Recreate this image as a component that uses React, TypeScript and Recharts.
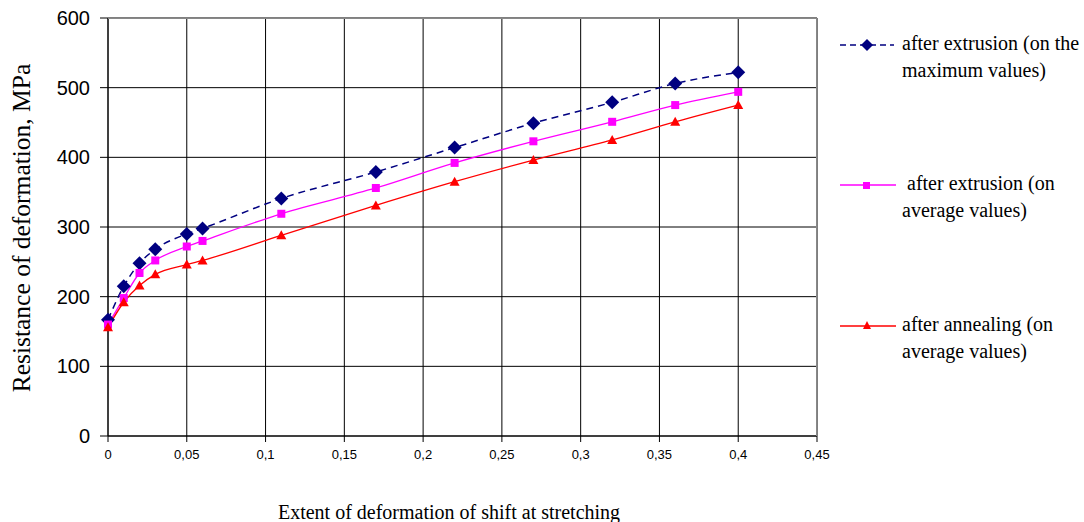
import { LineChart, Line, XAxis, YAxis, CartesianGrid } from 'recharts'

const strain = [0, 0.01, 0.02, 0.03, 0.05, 0.06, 0.11, 0.17, 0.22, 0.27, 0.32, 0.36, 0.4]
const maxExtrusion = [167, 215, 248, 268, 290, 298, 341, 379, 414, 449, 479, 506, 522]
const avgExtrusion = [160, 198, 234, 252, 272, 280, 319, 356, 392, 423, 451, 475, 494]
const avgAnnealing = [156, 192, 216, 232, 246, 252, 288, 331, 365, 396, 425, 451, 475]
const xTicks = [0, 0.05, 0.1, 0.15, 0.2, 0.25, 0.3, 0.35, 0.4, 0.45]
const yTicks = [0, 100, 200, 300, 400, 500, 600]
const seriesNames = [
  ['after extrusion (on the', 'maximum values)'],
  [' after extrusion (on', 'average values)'],
  ['after annealing (on', 'average values)'],
]

const data = strain.map((x, i) => ({
  x,
  max: maxExtrusion[i],
  avg: avgExtrusion[i],
  ann: avgAnnealing[i],
}))

const Diamond = (p: any) => {
  const { cx, cy } = p
  if (cx == null || cy == null) return null
  return <path d={`M${cx},${cy - 7} L${cx + 7},${cy} L${cx},${cy + 7} L${cx - 7},${cy} Z`} fill="#000080" />
}
const Square = (p: any) => {
  const { cx, cy } = p
  if (cx == null || cy == null) return null
  return <rect x={cx - 4} y={cy - 4} width={8} height={8} fill="#ff00ff" />
}
const Triangle = (p: any) => {
  const { cx, cy } = p
  if (cx == null || cy == null) return null
  return <path d={`M${cx},${cy - 5} L${cx + 5},${cy + 4} L${cx - 5},${cy + 4} Z`} fill="#ff0000" />
}

const serif = '"Liberation Serif", "Times New Roman", serif'
const sans = '"Liberation Sans", Arial, sans-serif'

function LegendRow({ top, kind, lines }: { top: number; kind: number; lines: string[] }) {
  return (
    <div style={{ position: 'absolute', left: 838, top, display: 'flex' }}>
      <svg width={60} height={20}>
        {kind === 0 && (
          <>
            <line x1={2} y1={8} x2={56} y2={8} stroke="#000080" strokeWidth={1.5} strokeDasharray="6 4" />
            <path d="M29,2 L35,8 L29,14 L23,8 Z" fill="#000080" />
          </>
        )}
        {kind === 1 && (
          <>
            <line x1={2} y1={8} x2={58} y2={8} stroke="#ff00ff" strokeWidth={1.5} />
            <rect x={25} y={5} width={7} height={7} fill="#ff00ff" />
          </>
        )}
        {kind === 2 && (
          <>
            <line x1={2} y1={8} x2={58} y2={8} stroke="#ff0000" strokeWidth={1.5} />
            <path d="M29,3 L33,11 L25,11 Z" fill="#ff0000" />
          </>
        )}
      </svg>
      <div style={{ fontFamily: serif, fontSize: 20, lineHeight: '27px', marginLeft: 4, marginTop: -7, whiteSpace: 'pre', color: '#000' }}>
        {lines[0]}
        <br />
        {lines[1]}
      </div>
    </div>
  )
}

export default function App() {
  return (
    <div style={{ position: 'absolute', left: 0, top: 0, width: 1084, height: 522, background: '#fff' }}>
      <LineChart width={1084} height={522} data={data} margin={{ top: 18, right: 267, bottom: 56, left: 0 }}>
        <CartesianGrid stroke="#000" strokeWidth={1} horizontalValues={yTicks} verticalValues={xTicks} />
        <XAxis
          dataKey="x"
          type="number"
          domain={[0, 0.45]}
          ticks={xTicks}
          height={30}
          stroke="#000"
          tickSize={6}
          tickMargin={8}
          tick={{ fill: '#000', fontSize: 13, fontFamily: sans }}
          tickFormatter={(v: number) => String(v).replace('.', ',')}
          interval={0}
        />
        <YAxis
          type="number"
          domain={[0, 600]}
          ticks={yTicks}
          width={108}
          stroke="#000"
          tickSize={8}
          tickMargin={10}
          tick={{ fill: '#000', fontSize: 20, fontFamily: sans }}
          interval={0}
        />
        <Line dataKey="max" type="monotone" stroke="#000080" strokeWidth={1.5} strokeDasharray="7 5" dot={<Diamond />} activeDot={false} isAnimationActive={false} />
        <Line dataKey="avg" type="monotone" stroke="#ff00ff" strokeWidth={1.3} dot={<Square />} activeDot={false} isAnimationActive={false} />
        <Line dataKey="ann" type="monotone" stroke="#ff0000" strokeWidth={1.3} dot={<Triangle />} activeDot={false} isAnimationActive={false} />
      </LineChart>
      <div style={{ position: 'absolute', left: 108, top: 18, width: 709, height: 418, borderTop: '1px solid #888', borderRight: '1px solid #888', boxSizing: 'border-box', pointerEvents: 'none' }} />
      <div
        style={{
          position: 'absolute',
          left: 22,
          top: 228,
          transform: 'translate(-50%, -50%) rotate(-90deg)',
          fontFamily: serif,
          fontSize: 25.5,
          whiteSpace: 'nowrap',
          color: '#000',
        }}
      >
        Resistance of deformation, MPa
      </div>
      <div style={{ position: 'absolute', left: 449, top: 512, transform: 'translate(-50%, -50%)', fontFamily: serif, fontSize: 20, whiteSpace: 'nowrap', color: '#000' }}>
        Extent of deformation of shift at stretching
      </div>
      <LegendRow top={37} kind={0} lines={seriesNames[0]} />
      <LegendRow top={177} kind={1} lines={seriesNames[1]} />
      <LegendRow top={318} kind={2} lines={seriesNames[2]} />
    </div>
  )
}
